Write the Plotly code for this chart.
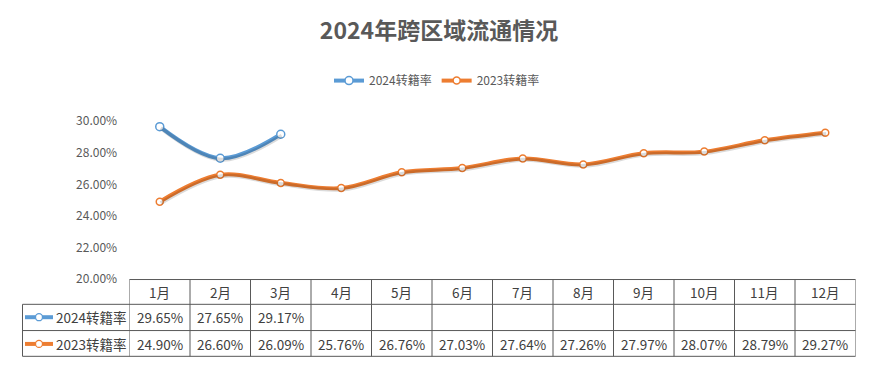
import plotly.graph_objects as go

months = ["1月", "2月", "3月", "4月", "5月", "6月", "7月", "8月", "9月", "10月", "11月", "12月"]
series_names = ["2024转籍率", "2023转籍率"]
rate_2024 = [29.65, 27.65, 29.17]
rate_2023 = [24.90, 26.60, 26.09, 25.76, 26.76, 27.03, 27.64, 27.26, 27.97, 28.07, 28.79, 29.27]
y_ticks = [20, 22, 24, 26, 28, 30]
colors = ["#5B9BD5", "#ED7D31"]

W, H = 870, 370
def px(x):
    return x / W
def py(y):
    return 1 - y / H

FONT = "Noto Sans CJK SC, Microsoft YaHei, sans-serif"
TXT = "#404040"
GRID = "#595959"

fig = go.Figure()

xidx = list(range(len(months)))

# soft shadows (drawn on slightly offset axes)
for vals, c in [(rate_2023, colors[1]), (rate_2024, colors[0])]:
    fig.add_trace(go.Scatter(
        x=xidx[:len(vals)], y=vals, xaxis="x2", yaxis="y2",
        mode="lines", line=dict(color="rgba(0,0,0,0.14)", width=4, shape="spline", smoothing=1),
        showlegend=False, hoverinfo="skip"))

fig.add_trace(go.Scatter(
    x=xidx[:len(rate_2024)], y=rate_2024, name=series_names[0],
    mode="lines+markers",
    line=dict(color=colors[0], width=4, shape="spline", smoothing=1),
    marker=dict(size=8, color="white", line=dict(color=colors[0], width=1.5))))
fig.add_trace(go.Scatter(
    x=xidx, y=rate_2023, name=series_names[1],
    mode="lines+markers",
    line=dict(color=colors[1], width=4, shape="spline", smoothing=1),
    marker=dict(size=7, color="white", line=dict(color=colors[1], width=1.5))))

x_left, x_right = 129.5, 855.5
y_top, y_bot = 116.5, 282
xdom = [px(x_left), px(x_right)]
ydom = [py(y_bot), py(y_top)]
xdom2 = [px(x_left + 1), px(x_right + 1)]
ydom2 = [py(y_bot + 1.5), py(y_top + 1.5)]

fig.update_layout(
    width=W, height=H,
    margin=dict(l=0, r=0, t=0, b=0),
    paper_bgcolor="white", plot_bgcolor="rgba(0,0,0,0)",
    font=dict(family=FONT, color=GRID),
    title=dict(text="<b>2024年跨区域流通情况</b>", x=px(439), xanchor="center",
               y=py(31), yanchor="middle", font=dict(size=23, color="#595959", family=FONT)),
    legend=dict(orientation="h", x=px(437), xanchor="center", y=py(74), yanchor="middle",
                font=dict(size=12, color="#595959", family=FONT), itemwidth=30,
                bgcolor="rgba(0,0,0,0)"),
    xaxis=dict(domain=xdom, range=[-0.5, 11.5], showticklabels=False, showgrid=False,
               zeroline=False, showline=False, ticks=""),
    yaxis=dict(domain=ydom, range=[20, 30], tickvals=y_ticks,
               ticktext=[f"{v:.2f}%" for v in y_ticks],
               showgrid=False, zeroline=False, showline=False, ticks="outside", ticklen=9,
               tickcolor="rgba(0,0,0,0)", tickfont=dict(size=12, color=GRID, family=FONT)),
    xaxis2=dict(domain=xdom2, range=[-0.5, 11.5], visible=False, anchor="y2"),
    yaxis2=dict(domain=ydom2, range=[20, 30], visible=False, anchor="x2"),
    hovermode=False,
)

shapes = []
LC = "#595959"
row_y = [282.5, 308.5, 336, 363]
# horizontal lines
shapes.append(dict(type="line", xref="paper", yref="paper", x0=px(x_left), x1=px(x_right),
                   y0=py(row_y[0]), y1=py(row_y[0]), line=dict(color=LC, width=1)))
for yy in row_y[1:]:
    shapes.append(dict(type="line", xref="paper", yref="paper", x0=px(22.5), x1=px(x_right),
                       y0=py(yy), y1=py(yy), line=dict(color=LC, width=1)))
# vertical lines
shapes.append(dict(type="line", xref="paper", yref="paper", x0=px(22.5), x1=px(22.5),
                   y0=py(row_y[1]), y1=py(row_y[3]), line=dict(color=LC, width=1)))
for i in range(len(months) + 1):
    shapes.append(dict(type="line", xref="x", yref="paper", x0=i - 0.5, x1=i - 0.5,
                       y0=py(row_y[0]), y1=py(row_y[3]), line=dict(color=LC, width=1)))

# legend keys in table
label_y = [322, 350]
for c, yy in zip(colors, label_y):
    shapes.append(dict(type="line", xref="paper", yref="paper", x0=px(25), x1=px(53),
                       y0=py(yy), y1=py(yy), line=dict(color=c, width=4)))
    shapes.append(dict(type="circle", xref="paper", yref="paper", xsizemode="pixel", ysizemode="pixel",
                       xanchor=px(39), yanchor=py(yy), x0=-3.5, x1=3.5, y0=-3.5, y1=3.5,
                       fillcolor="white", line=dict(color=c, width=1.3)))

annotations = []
for i, m in enumerate(months):
    annotations.append(dict(x=i, y=py(295.5), xref="x", yref="paper", text=m, showarrow=False,
                            xanchor="center", yanchor="middle",
                            font=dict(size=13.5, color=TXT, family=FONT)))
for name, yy in zip(series_names, label_y):
    annotations.append(dict(x=px(54), y=py(yy), xref="paper", yref="paper", text=name,
                            xanchor="left", yanchor="middle", showarrow=False,
                            font=dict(size=13.5, color=TXT, family=FONT)))
for vals, yy in [(rate_2024, label_y[0]), (rate_2023, label_y[1])]:
    for i, v in enumerate(vals):
        annotations.append(dict(x=i, y=py(yy), xref="x", yref="paper", text=f"{v:.2f}%",
                                xanchor="center", yanchor="middle", showarrow=False,
                                font=dict(size=13.5, color=TXT, family=FONT)))

fig.update_layout(shapes=shapes, annotations=annotations)
fig.write_html("out.html", config={"displayModeBar": False},
               post_script="document.body.style.margin='0';document.body.style.overflow='hidden';")
